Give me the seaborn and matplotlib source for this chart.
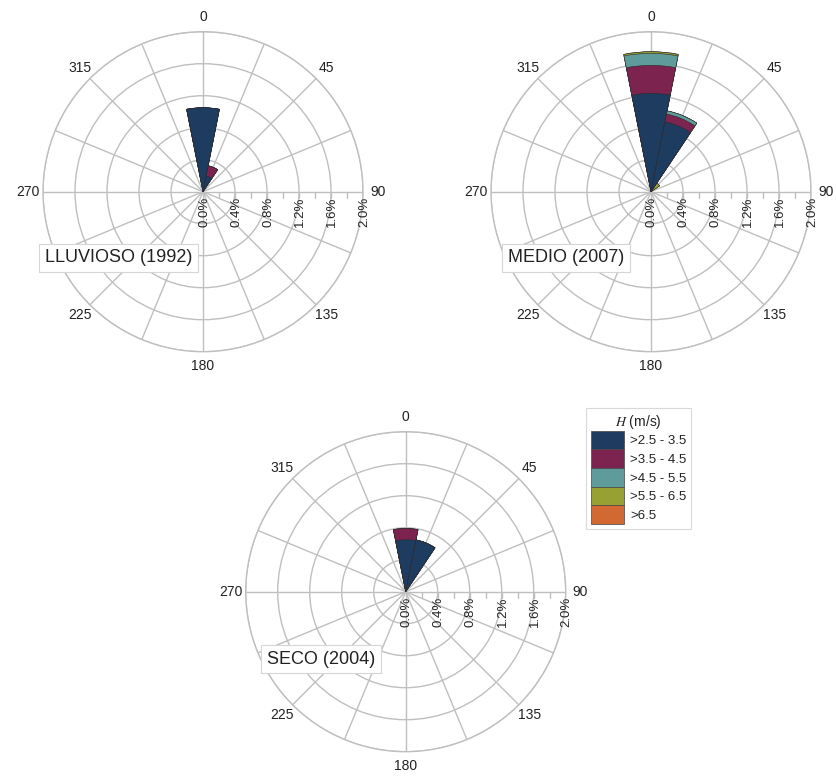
import numpy as np
import pandas as pd
import matplotlib
matplotlib.use("Agg")
import matplotlib.pyplot as plt
import seaborn as sns
from matplotlib.patches import Patch
from matplotlib.transforms import offset_copy

# ---------------- data ----------------
directions = [0, 22.5, 45]                      # wind direction (deg)
classes = [">2.5 - 3.5", ">3.5 - 4.5", ">4.5 - 5.5", ">5.5 - 6.5", ">6.5"]
colors = ["#1e3c5f", "#7d2350", "#5f9b9b", "#97a032", "#d26932"]

# frequency (%) per class, one value per direction
lluvioso_c1 = [1.05, 0.20, 0.0]
lluvioso_c2 = [0.0, 0.13, 0.0]
lluvioso_c3 = [0.0, 0.0, 0.0]
lluvioso_c4 = [0.0, 0.0, 0.0]
lluvioso_c5 = [0.0, 0.0, 0.0]

medio_c1 = [1.23, 0.89, 0.0]
medio_c2 = [0.35, 0.10, 0.0]
medio_c3 = [0.15, 0.04, 0.0]
medio_c4 = [0.02, 0.0, 0.13]
medio_c5 = [0.0, 0.0, 0.0]

seco_c1 = [0.65, 0.66, 0.0]
seco_c2 = [0.14, 0.0, 0.0]
seco_c3 = [0.0, 0.0, 0.0]
seco_c4 = [0.0, 0.0, 0.0]
seco_c5 = [0.0, 0.0, 0.0]

panel_titles = ["LLUVIOSO (1992)", "MEDIO (2007)", "SECO (2004)"]
angle_ticks = [0, 45, 90, 135, 180, 225, 270, 315]
radial_ticks = [0.0, 0.4, 0.8, 1.2, 1.6, 2.0]
legend_title = "$H$ (m/s)"

# ---------------- style ----------------
sns.set_style("white")
plt.rcParams["font.family"] = ["Liberation Sans", "DejaVu Sans"]
plt.rcParams["mathtext.fontset"] = "stix"
plt.rcParams["text.color"] = "#222222"

W, H = 837, 779
fig = plt.figure(figsize=(W / 100, H / 100), dpi=100)
GRID = "#bfbfbf"

def add_polar(cx, cy, r=160):
    return fig.add_axes([(cx - r) / W, 1 - (cy + r) / H, 2 * r / W, 2 * r / H],
                        projection="polar")

def rose(ax, series):
    cum = np.cumsum(np.array(series), axis=0)
    theta = np.deg2rad(directions)
    for k in reversed(range(len(classes))):
        df = pd.DataFrame({"theta": theta, "r": cum[k]})
        sns.barplot(data=df, x="theta", y="r", native_scale=True, width=1.0,
                    color=colors[k], saturation=1, errorbar=None,
                    edgecolor="#2a2a2a", linewidth=0.4, ax=ax, zorder=3)
    ax.set_theta_zero_location("N")
    ax.set_theta_direction(-1)
    ax.set_ylim(0, 2.0)
    all_t = np.arange(0, 360, 22.5)
    ax.set_xticks(np.deg2rad(all_t))
    ax.set_xticklabels([str(int(a)) if a == int(a) and int(a) in angle_ticks else "" for a in all_t],
                       fontsize=10, color="#222222")
    ax.tick_params(axis="x", pad=0)
    ax.set_yticks(radial_ticks[1:])
    ax.set_yticklabels([])
    ax.grid(True, color=GRID, lw=1.0)
    ax.set_axisbelow(True)
    ax.spines["polar"].set_color(GRID)
    ax.spines["polar"].set_linewidth(1.0)
    ax.set_xlabel("")
    ax.set_ylabel("")
    # minor ticks along the 90 deg axis
    minor = np.arange(0.2, 2.0, 0.2)
    ax.plot(np.full(len(minor), np.pi / 2), minor, ls="none", marker=3,
            markersize=4, color=GRID, mew=1.0, zorder=2)
    trans = offset_copy(ax.transData, fig=fig, x=1, y=-5, units="dots")
    for rv in radial_ticks:
        ax.text(np.pi / 2, rv, f"{rv:.1f}%", rotation=90, ha="center", va="top",
                fontsize=9.5, color="#222222", transform=trans, zorder=5)

ax1 = add_polar(203, 191.7)
rose(ax1, [lluvioso_c1, lluvioso_c2, lluvioso_c3, lluvioso_c4, lluvioso_c5])
ax2 = add_polar(651, 191.7)
rose(ax2, [medio_c1, medio_c2, medio_c3, medio_c4, medio_c5])
ax3 = add_polar(405.7, 591.7)
rose(ax3, [seco_c1, seco_c2, seco_c3, seco_c4, seco_c5])

box = dict(boxstyle="square,pad=0.32", fc="white", ec="#d6d6d6", lw=0.8)
for (tx, ty), t in zip([(45, 258), (508, 258), (267, 659)], panel_titles):
    fig.text(tx / W, 1 - ty / H, t, fontsize=13, ha="left", va="center", bbox=box,
             color="#222222", zorder=10)

handles = [Patch(facecolor=c, edgecolor="#444444", lw=0.5) for c in colors]
leg = fig.legend(handles, classes, title=legend_title, loc="upper left",
                 bbox_to_anchor=(586 / W, 1 - 408 / H), fontsize=9.5, title_fontsize=10,
                 frameon=True, fancybox=False, edgecolor="#d0d0d0",
                 handlelength=2.5, handleheight=1.8, labelspacing=0,
                 handletextpad=0.5, borderpad=0.35, borderaxespad=0)
leg.get_frame().set_linewidth(0.8)

fig.savefig("out.png", dpi=100, facecolor="white")
